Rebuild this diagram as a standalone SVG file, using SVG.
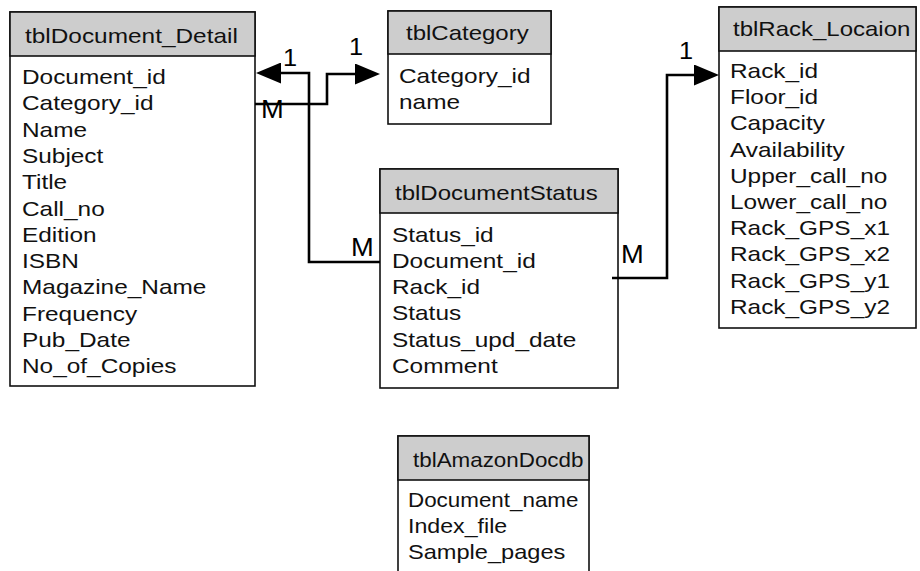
<svg xmlns="http://www.w3.org/2000/svg" width="920" height="571" viewBox="0 0 920 571">
  <style>
    .box { fill: #ffffff; stroke: #111111; stroke-width: 1.6; }
    .head { fill: #cdcdcd; stroke: #111111; stroke-width: 1.6; }
    text { font-family: "Liberation Sans", Arial, sans-serif; font-size: 20px; fill: #111111; }
    .card { font-size: 26px; fill: #000000; }
    .one { font-size: 23px; fill: #000000; }
    .link { fill: none; stroke: #000000; stroke-width: 2.6; }
  </style>
  <defs>
    <marker id="arrow" viewBox="0 0 25 21" refX="0" refY="10.5" markerWidth="25" markerHeight="21" markerUnits="userSpaceOnUse" orient="auto">
      <path d="M0,0 L25,10.5 L0,21 Z" fill="#000000"/>
    </marker>
  </defs>

  <rect width="920" height="571" fill="#ffffff"/>

  <!-- tblDocument_Detail -->
  <g id="tblDocument_Detail">
    <rect class="box" x="10" y="12" width="245" height="374"/>
    <rect class="head" x="10" y="12" width="245" height="44"/>
    <text transform="matrix(1.22 0 0 1 25 43)">tblDocument_Detail</text>
    <text transform="matrix(1.22 0 0 1 22 84)">Document_id</text>
    <text transform="matrix(1.22 0 0 1 22 110.3)">Category_id</text>
    <text transform="matrix(1.22 0 0 1 22 136.6)">Name</text>
    <text transform="matrix(1.22 0 0 1 22 162.9)">Subject</text>
    <text transform="matrix(1.22 0 0 1 22 189.2)">Title</text>
    <text transform="matrix(1.22 0 0 1 22 215.5)">Call_no</text>
    <text transform="matrix(1.22 0 0 1 22 241.8)">Edition</text>
    <text transform="matrix(1.22 0 0 1 22 268.1)">ISBN</text>
    <text transform="matrix(1.22 0 0 1 22 294.4)">Magazine_Name</text>
    <text transform="matrix(1.22 0 0 1 22 320.7)">Frequency</text>
    <text transform="matrix(1.22 0 0 1 22 347)">Pub_Date</text>
    <text transform="matrix(1.22 0 0 1 22 373.3)">No_of_Copies</text>
  </g>

  <!-- tblCategory -->
  <g id="tblCategory">
    <rect class="box" x="388" y="11" width="163" height="113"/>
    <rect class="head" x="388" y="11" width="163" height="43"/>
    <text transform="matrix(1.2 0 0 1 406 40)">tblCategory</text>
    <text transform="matrix(1.22 0 0 1 399 83)">Category_id</text>
    <text transform="matrix(1.22 0 0 1 399 109)">name</text>
  </g>

  <!-- tblRack_Locaion -->
  <g id="tblRack_Locaion">
    <rect class="box" x="719" y="7" width="197" height="321"/>
    <rect class="head" x="719" y="7" width="197" height="44"/>
    <text transform="matrix(1.2 0 0 1 733 36)">tblRack_Locaion</text>
    <text transform="matrix(1.22 0 0 1 730 78)">Rack_id</text>
    <text transform="matrix(1.22 0 0 1 730 104.2)">Floor_id</text>
    <text transform="matrix(1.22 0 0 1 730 130.4)">Capacity</text>
    <text transform="matrix(1.22 0 0 1 730 156.6)">Availability</text>
    <text transform="matrix(1.22 0 0 1 730 182.8)">Upper_call_no</text>
    <text transform="matrix(1.22 0 0 1 730 209)">Lower_call_no</text>
    <text transform="matrix(1.22 0 0 1 730 235.2)">Rack_GPS_x1</text>
    <text transform="matrix(1.22 0 0 1 730 261.4)">Rack_GPS_x2</text>
    <text transform="matrix(1.22 0 0 1 730 287.6)">Rack_GPS_y1</text>
    <text transform="matrix(1.22 0 0 1 730 313.8)">Rack_GPS_y2</text>
  </g>

  <!-- tblDocumentStatus -->
  <g id="tblDocumentStatus">
    <rect class="box" x="380" y="169" width="238" height="219"/>
    <rect class="head" x="380" y="169" width="238" height="44"/>
    <text transform="matrix(1.2 0 0 1 395 200)">tblDocumentStatus</text>
    <text transform="matrix(1.22 0 0 1 392 241.5)">Status_id</text>
    <text transform="matrix(1.22 0 0 1 392 267.8)">Document_id</text>
    <text transform="matrix(1.22 0 0 1 392 294.1)">Rack_id</text>
    <text transform="matrix(1.22 0 0 1 392 320.4)">Status</text>
    <text transform="matrix(1.22 0 0 1 392 346.7)">Status_upd_date</text>
    <text transform="matrix(1.22 0 0 1 392 373)">Comment</text>
  </g>

  <!-- tblAmazonDocdb (runs past the lower edge) -->
  <g id="tblAmazonDocdb">
    <rect class="box" x="398" y="436" width="191" height="160"/>
    <rect class="head" x="398" y="436" width="191" height="44"/>
    <text transform="matrix(1.12 0 0 1 413 467)">tblAmazonDocdb</text>
    <text transform="matrix(1.12 0 0 1 408 507)">Document_name</text>
    <text transform="matrix(1.16 0 0 1 408 533)">Index_file</text>
    <text transform="matrix(1.18 0 0 1 408 559)">Sample_pages</text>
  </g>

  <!-- relationships -->
  <g id="connectors">
    <path class="link" d="M255,104 H327 V74 H355" marker-end="url(#arrow)"/>
    <path class="link" d="M380,262 H309 V73 H281" marker-end="url(#arrow)"/>
    <path class="link" d="M612,278 H667 V75 H694" marker-end="url(#arrow)"/>
    <text class="card" transform="matrix(1.05 0 0 1 261 118)">M</text>
    <text class="one" transform="matrix(1.1 0 0 1 349 55)">1</text>
    <text class="one" transform="matrix(1.1 0 0 1 283 66)">1</text>
    <text class="card" transform="matrix(1.05 0 0 1 351 256)">M</text>
    <text class="card" transform="matrix(1.05 0 0 1 621 263)">M</text>
    <text class="one" transform="matrix(1.1 0 0 1 679 59)">1</text>
  </g>
</svg>
